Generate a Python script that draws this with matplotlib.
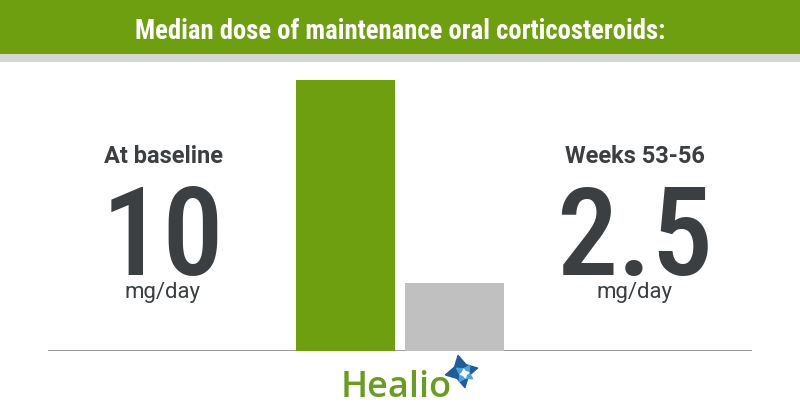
import matplotlib
matplotlib.use("Agg")
import matplotlib.pyplot as plt
from matplotlib.patches import Rectangle
from matplotlib import font_manager

title = "Median dose of maintenance oral corticosteroids:"
categories = ["At baseline", "Weeks 53-56"]
values = [10, 2.5]
value_labels = ["10", "2.5"]
unit = "mg/day"
bar_colors = ["#6d9f10", "#c0c0c0"]

W, H = 800, 420
fig = plt.figure(figsize=(W / 100, H / 100), dpi=100)
fig.patch.set_facecolor("white")

def fx(px):
    return px / W

def fy(py):
    return 1 - py / H

names = {f.name for f in font_manager.fontManager.ttflist}
if "Roboto Condensed" in names:
    cond_family, title_size, num_size = "Roboto Condensed", 19.2, 88
else:
    cond_family, title_size, num_size = "Roboto", 17, 80

# header band
fig.patches.append(Rectangle((0, fy(54)), 1, 54 / H, transform=fig.transFigure,
                             facecolor="#6d9f10", edgecolor="none", zorder=0))
fig.patches.append(Rectangle((0, fy(62)), 1, 8 / H, transform=fig.transFigure,
                             facecolor="#d6d6d6", edgecolor="none", zorder=0))
fig.text(0.5, fy(39), title, ha="center", va="baseline", color="white",
         fontsize=title_size, fontweight="bold", family=cond_family)

# bar axes
ax = fig.add_axes([fx(48), fy(351), fx(704), (351 - 80) / H])
pos = [0, 1]
ax.bar(pos, values, width=0.908, color=bar_colors, zorder=2)
ax.set_xlim(-2.729, 3.729)
ax.set_ylim(0, max(values))
ax.axhline(0, color="#8a8a8a", lw=1.2, zorder=1)
ax.axis("off")

txt_color = "#3b3f41"
centers = [163, 635]
for cx, cat, vl in zip(centers, categories, value_labels):
    fig.text(fx(cx), fy(163), cat, ha="center", va="baseline", color=txt_color,
             fontsize=17, fontweight="bold", family="Roboto")
    fig.text(fx(cx), fy(275), vl, ha="center", va="baseline", color=txt_color,
             fontsize=num_size, fontweight=500, family=cond_family)
    fig.text(fx(cx), fy(298), unit, ha="center", va="baseline", color=txt_color,
             fontsize=16, family="Roboto")

# Healio logo
fig.text(fx(341), fy(397), "Healio", ha="left", va="baseline", color="#6a9c24",
         fontsize=26, fontweight="semibold", family="Open Sans")
lx = fig.add_axes([0, 0, 1, 1], facecolor="none")
lx.set_xlim(0, W)
lx.set_ylim(H, 0)
lx.axis("off")
lx.scatter([461], [371], marker=(4, 1, 12), s=560, color="#1f5c99", zorder=3)
lx.scatter([464], [373], marker=(4, 1, 57), s=190, color="#4aa3d8", zorder=4)
lx.scatter([464], [373], marker=(4, 1, 12), s=40, color="white", zorder=5)

fig.savefig("out.png", dpi=100, facecolor="white")
